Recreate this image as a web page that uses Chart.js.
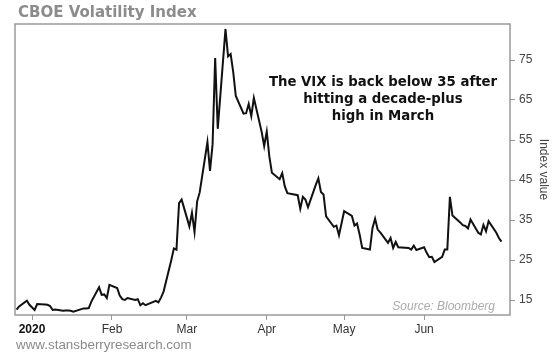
<!DOCTYPE html>
<html>
<head>
<meta charset="utf-8">
<script src="https://cdn.jsdelivr.net/npm/chart.js@4.4.0/dist/chart.umd.min.js"></script>
<style>
  html, body { margin: 0; padding: 0; background: #fff; }
  #wrap { width: 554px; height: 352px; }
</style>
</head>
<body>
<div id="wrap"><canvas id="vixChart" width="554" height="352"></canvas></div>
<script>
// VIX daily closes
const tradeDates = [
  '2019-12-26', '2019-12-27', '2019-12-30', '2019-12-31',
  '2020-01-02', '2020-01-03', '2020-01-06', '2020-01-07', '2020-01-08', '2020-01-09', '2020-01-10',
  '2020-01-13', '2020-01-14', '2020-01-15', '2020-01-16', '2020-01-17', '2020-01-21', '2020-01-22',
  '2020-01-23', '2020-01-24', '2020-01-27', '2020-01-28', '2020-01-29', '2020-01-30', '2020-01-31',
  '2020-02-03', '2020-02-04', '2020-02-05', '2020-02-06', '2020-02-07', '2020-02-10', '2020-02-11',
  '2020-02-12', '2020-02-13', '2020-02-14', '2020-02-18', '2020-02-19', '2020-02-20', '2020-02-21',
  '2020-02-24', '2020-02-25', '2020-02-26', '2020-02-27', '2020-02-28',
  '2020-03-02', '2020-03-03', '2020-03-04', '2020-03-05', '2020-03-06', '2020-03-09', '2020-03-10',
  '2020-03-11', '2020-03-12', '2020-03-13', '2020-03-16', '2020-03-17', '2020-03-18', '2020-03-19',
  '2020-03-20', '2020-03-23', '2020-03-24', '2020-03-25', '2020-03-26', '2020-03-27', '2020-03-30',
  '2020-03-31',
  '2020-04-01', '2020-04-02', '2020-04-03', '2020-04-06', '2020-04-07', '2020-04-08', '2020-04-09',
  '2020-04-13', '2020-04-14', '2020-04-15', '2020-04-16', '2020-04-17', '2020-04-20', '2020-04-21',
  '2020-04-22', '2020-04-23', '2020-04-24', '2020-04-27', '2020-04-28', '2020-04-29', '2020-04-30',
  '2020-05-01', '2020-05-04', '2020-05-05', '2020-05-06', '2020-05-07', '2020-05-08', '2020-05-11',
  '2020-05-12', '2020-05-13', '2020-05-14', '2020-05-15', '2020-05-18', '2020-05-19', '2020-05-20',
  '2020-05-21', '2020-05-22', '2020-05-26', '2020-05-27', '2020-05-28', '2020-05-29',
  '2020-06-01', '2020-06-02', '2020-06-03', '2020-06-04', '2020-06-05', '2020-06-08', '2020-06-09',
  '2020-06-10', '2020-06-11', '2020-06-12', '2020-06-15', '2020-06-16', '2020-06-17', '2020-06-18',
  '2020-06-19', '2020-06-22', '2020-06-23', '2020-06-24', '2020-06-25', '2020-06-26', '2020-06-29',
  '2020-06-30', '2020-07-01'
];
const vixClose = [
  12.6, 13.4, 14.8, 13.8,
  12.5, 14.0, 13.9, 13.8, 13.5, 12.5, 12.6,
  12.3, 12.4, 12.4, 12.3, 12.1, 12.9, 12.9,
  13.0, 14.6, 18.2, 16.3, 16.4, 15.5, 18.8,
  18.0, 16.1, 15.2, 15.0, 15.5, 15.0, 15.2,
  13.7, 14.2, 13.7, 14.8, 14.4, 15.6, 17.1,
  25.0, 27.9, 27.6, 39.2, 40.1,
  33.4, 36.8, 32.0, 39.6, 41.9, 54.5, 47.3,
  53.9, 75.5, 57.8, 82.7, 75.9, 76.5, 72.0,
  66.0, 61.6, 61.7, 64.0, 61.0, 65.5, 57.1,
  53.5,
  57.1, 50.9, 46.8, 45.2, 46.7, 43.4, 41.7,
  41.2, 37.8, 40.8, 40.1, 38.2, 43.8, 45.4,
  42.0, 41.4, 35.9, 33.3, 33.6, 31.2, 34.2,
  37.2, 36.0, 33.6, 34.1, 31.4, 28.0, 27.6,
  33.0, 35.3, 32.6, 31.9, 29.3, 30.5, 28.0,
  29.5, 28.2, 28.0, 27.6, 28.6, 27.5,
  28.2, 26.8, 25.7, 25.8, 24.5, 25.8, 27.6,
  27.6, 40.8, 36.1, 34.4, 33.7, 33.5, 32.9,
  35.1, 31.8, 31.4, 33.8, 32.2, 34.7, 31.8,
  30.5, 29.6
];

const monthTicks = ['2020-01-01', '2020-02-01', '2020-03-01', '2020-04-01', '2020-05-01', '2020-06-01'];
const monthLabels = ['2020', 'Feb', 'Mar', 'Apr', 'May', 'Jun'];
const yTicks = [15, 25, 35, 45, 55, 65, 75];

const chartTitle = 'CBOE Volatility Index';
const noteLines = ['The VIX is back below 35 after', 'hitting a decade-plus', 'high in March'];
const sourceText = 'Source: Bloomberg';
const siteText = 'www.stansberryresearch.com';

// days since Jan 1 2020
function dayNum(s) {
  const [y, m, d] = s.split('-').map(Number);
  return (Date.UTC(y, m - 1, d) - Date.UTC(2020, 0, 1)) / 86400000;
}

const points = tradeDates.map((d, i) => ({ x: dayNum(d), y: vixClose[i] }));
const tickDays = monthTicks.map(dayNum);

const extras = {
  id: 'extras',
  afterDraw(chart) {
    const { ctx, chartArea: a } = chart;
    ctx.save();
    // plot frame
    ctx.strokeStyle = '#9a9a9a';
    ctx.lineWidth = 1.5;
    ctx.strokeRect(a.left, a.top, a.right - a.left, a.bottom - a.top);

    // title
    ctx.fillStyle = '#8c8c8c';
    ctx.font = 'bold 15px "DejaVu Sans"';
    ctx.textAlign = 'left';
    ctx.textBaseline = 'alphabetic';
    ctx.fillText(chartTitle, 18, 17);

    // annotation
    ctx.fillStyle = '#111';
    ctx.font = 'bold 13.3px "DejaVu Sans"';
    ctx.textAlign = 'center';
    ctx.textBaseline = 'middle';
    noteLines.forEach((t, i) => ctx.fillText(t, 383, 83 + i * 17));

    // source
    ctx.fillStyle = '#aaaaaa';
    ctx.font = 'italic 12px "Liberation Sans"';
    ctx.textAlign = 'right';
    ctx.fillText(sourceText, 495, 307);

    // website
    ctx.fillStyle = '#8a8a8a';
    ctx.font = '13.4px "Liberation Sans"';
    ctx.textAlign = 'left';
    ctx.fillText(siteText, 16, 345);
    ctx.restore();
  }
};

new Chart(document.getElementById('vixChart'), {
  type: 'line',
  data: {
    datasets: [{
      data: points,
      borderColor: '#111',
      borderWidth: 2,
      pointRadius: 0,
      tension: 0,
      fill: false,
    }]
  },
  options: {
    responsive: false,
    animation: false,
    devicePixelRatio: 1,
    layout: { padding: { top: 24, left: 15, right: 0, bottom: 0 } },
    plugins: {
      legend: { display: false },
      tooltip: { enabled: false },
    },
    scales: {
      x: {
        type: 'linear',
        min: -6.6,
        max: 185.3,
        afterBuildTicks: s => { s.ticks = tickDays.map(v => ({ value: v })); },
        afterFit: s => { s.height = 37; },
        grid: { drawOnChartArea: false, color: '#9a9a9a', tickLength: 5 },
        border: { display: false },
        ticks: {
          autoSkip: false,
          maxRotation: 0,
          padding: 2,
          color: c => c.index === 0 ? '#111' : '#333',
          font: c => ({ family: '"Liberation Sans"', size: 12, weight: c.index === 0 ? 'bold' : 'normal' }),
          callback: (v, i) => monthLabels[i],
        }
      },
      y: {
        position: 'right',
        min: 11.25,
        max: 84,
        afterBuildTicks: s => { s.ticks = yTicks.map(v => ({ value: v })); },
        afterFit: s => { s.width = 44; },
        grid: { drawOnChartArea: false, color: '#9a9a9a', tickLength: 5 },
        border: { display: false },
        ticks: {
          padding: 4,
          color: '#444',
          font: { family: '"Liberation Sans"', size: 12 },
        },
        title: {
          display: true,
          text: 'Index value',
          color: '#444',
          font: { family: '"Liberation Sans"', size: 12 },
          padding: { top: 3, bottom: 0 },
        }
      }
    }
  },
  plugins: [extras]
});
</script>
</body>
</html>
